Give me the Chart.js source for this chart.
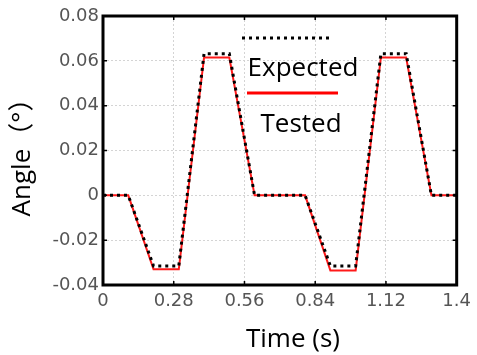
<!DOCTYPE html>
<html lang="en">
<head>
	<meta charset="UTF-8">
	<title>Angle vs Time</title>
	<script src="https://cdn.jsdelivr.net/npm/chart.js"></script>
	<style>
		body { margin: 0; background: #fff; }
		#wrap { width: 477px; height: 355px; }
	</style>
</head>
<body>
	<div id="wrap"><canvas id="angleChart" width="477" height="355"></canvas></div>
<script>
// data
var times    = [0, 0.1, 0.2, 0.3, 0.4, 0.5, 0.6, 0.8, 0.9, 1.0, 1.1, 1.2, 1.3, 1.4];
var expected = [0, 0, -0.0315, -0.0315, 0.0632, 0.0632, 0, 0, -0.0315, -0.0315, 0.0632, 0.0632, 0, 0];
var tested   = [0, 0, -0.033, -0.033, 0.0615, 0.0615, 0, 0, -0.0335, -0.0335, 0.0615, 0.0615, 0, 0];

var xTicks = [0, 0.28, 0.56, 0.84, 1.12, 1.4];
var yTicks = [-0.04, -0.02, 0, 0.02, 0.04, 0.06, 0.08];
var xTickLabels = ['0', '0.28', '0.56', '0.84', '1.12', '1.4'];
var yTickLabels = ['-0.04', '-0.02', '0', '0.02', '0.04', '0.06', '0.08'];

var xTitle = 'Time (s)';
var yTitle = 'Angle（°）';
var legendNames = ['Expected', 'Tested'];

function pts(ys) {
	return times.map(function (t, i) { return { x: t, y: ys[i] }; });
}

var titleFont = '26px "Open Sans", "Noto Sans CJK SC", sans-serif';
var legendFont = '26px "Open Sans", "Noto Sans CJK SC", sans-serif';

// frame, inner ticks, legend and axis titles
var decor = {
	id: 'decor',
	afterDatasetsDraw: function (chart) {
		var ctx = chart.ctx;
		var a = chart.chartArea;
		var xs = chart.scales.x, ys = chart.scales.y;
		ctx.save();
		ctx.strokeStyle = '#000';
		ctx.lineWidth = 1.5;
		xTicks.forEach(function (v) {
			var px = xs.getPixelForValue(v);
			ctx.beginPath();
			ctx.moveTo(px, a.bottom); ctx.lineTo(px, a.bottom - 4);
			ctx.moveTo(px, a.top); ctx.lineTo(px, a.top + 4);
			ctx.stroke();
		});
		yTicks.forEach(function (v) {
			var py = ys.getPixelForValue(v);
			ctx.beginPath();
			ctx.moveTo(a.left, py); ctx.lineTo(a.left + 4, py);
			ctx.moveTo(a.right, py); ctx.lineTo(a.right - 4, py);
			ctx.stroke();
		});
		ctx.lineWidth = 3;
		ctx.strokeRect(a.left, a.top, a.right - a.left, a.bottom - a.top);

		// legend inside plot
		ctx.setLineDash([3, 4]);
		ctx.lineWidth = 3;
		ctx.strokeStyle = '#000';
		ctx.beginPath();
		ctx.moveTo(242, 38); ctx.lineTo(331, 38);
		ctx.stroke();
		ctx.setLineDash([]);
		ctx.strokeStyle = '#ff0000';
		ctx.beginPath();
		ctx.moveTo(247, 93); ctx.lineTo(338, 93);
		ctx.stroke();
		ctx.fillStyle = '#000';
		ctx.font = legendFont;
		ctx.textAlign = 'center';
		ctx.textBaseline = 'alphabetic';
		ctx.fillText(legendNames[0], 303, 76);
		ctx.fillText(legendNames[1], 301, 132);

		// axis titles
		ctx.font = titleFont;
		ctx.fillText(xTitle, 293, 347);
		ctx.translate(23, 151);
		ctx.rotate(-Math.PI / 2);
		ctx.textBaseline = 'middle';
		ctx.fillText(yTitle, 0, 0);
		ctx.restore();
	}
};

var ctx = document.getElementById('angleChart').getContext('2d');
var angleChart = new Chart(ctx, {
	type: 'line',
	data: {
		datasets: [
			{
				label: legendNames[0],
				data: pts(expected),
				borderColor: '#000',
				borderWidth: 3,
				borderDash: [3, 4],
				pointRadius: 0,
				tension: 0
			},
			{
				label: legendNames[1],
				data: pts(tested),
				borderColor: '#ff1a1a',
				borderWidth: 2,
				pointRadius: 0,
				tension: 0
			}
		]
	},
	options: {
		responsive: false,
		animation: false,
		layout: { padding: { top: 16, right: 16, left: 0, bottom: 0 } },
		plugins: { legend: { display: false }, tooltip: { enabled: false } },
		scales: {
			x: {
				type: 'linear',
				min: 0,
				max: 1.4,
				afterBuildTicks: function (s) { s.ticks = xTicks.map(function (v) { return { value: v }; }); },
				afterFit: function (s) { s.height = 70; },
				grid: { color: '#d4d4d4', lineWidth: 1, drawTicks: false },
				border: { display: false, dash: [2, 2] },
				ticks: {
					padding: 6,
					color: '#555',
					font: { family: 'DejaVu Sans', size: 18 },
					maxRotation: 0,
					autoSkip: false,
					callback: function (v, i) { return xTickLabels[i]; }
				}
			},
			y: {
				min: -0.04,
				max: 0.08,
				afterBuildTicks: function (s) { s.ticks = yTicks.map(function (v) { return { value: v }; }); },
				afterFit: function (s) { s.width = 103; },
				grid: { color: '#d4d4d4', lineWidth: 1, drawTicks: false },
				border: { display: false, dash: [2, 2] },
				ticks: {
					padding: 4,
					color: '#555',
					font: { family: 'DejaVu Sans', size: 18 },
					autoSkip: false,
					callback: function (v, i) { return yTickLabels[i]; }
				}
			}
		}
	},
	plugins: [decor]
});
</script>
</body>
</html>
